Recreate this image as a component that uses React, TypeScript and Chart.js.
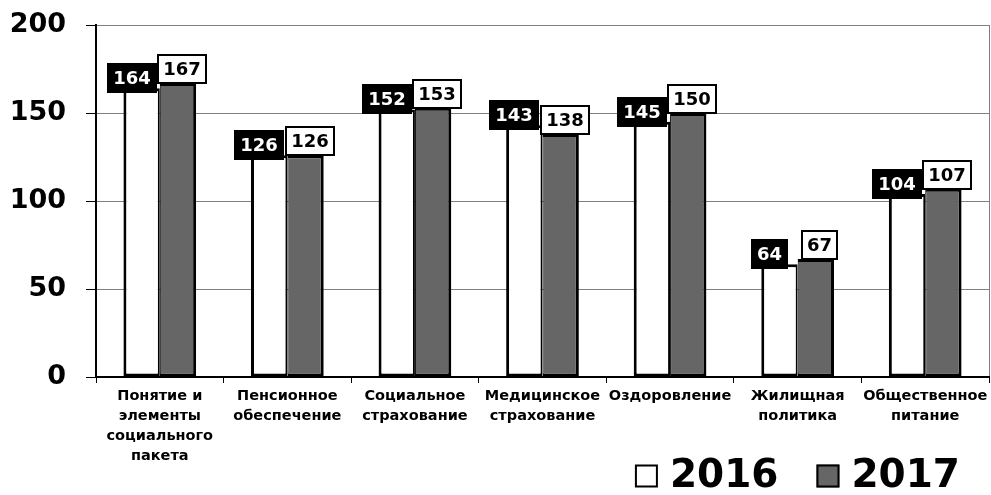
import { useEffect, useRef } from 'react';
import { Chart, registerables } from 'chart.js';

Chart.register(...registerables);

const categories: string[][] = [
  ['Понятие и', 'элементы', 'социального', 'пакета'],
  ['Пенсионное', 'обеспечение'],
  ['Социальное', 'страхование'],
  ['Медицинское', 'страхование'],
  ['Оздоровление'],
  ['Жилищная', 'политика'],
  ['Общественное', 'питание'],
];
const values2016 = [164, 126, 152, 143, 145, 64, 104];
const values2017 = [167, 126, 153, 138, 150, 67, 107];
const seriesNames = ['2016', '2017'];
const yMin = 0;
const yMax = 200;
const yStep = 50;

const FONT = '"DejaVu Sans", Verdana, sans-serif';

const labelPlugin = {
  id: 'boxLabels',
  afterDatasetsDraw(chart: any) {
    const ctx = chart.ctx;
    ctx.save();
    ctx.font = `bold 18px ${FONT}`;
    ctx.textAlign = 'center';
    ctx.textBaseline = 'middle';
    chart.data.datasets.forEach((ds: any, di: number) => {
      const meta = chart.getDatasetMeta(di);
      const dark = di === 0;
      meta.data.forEach((el: any, i: number) => {
        const text = String(ds.data[i]);
        const w = Math.round(ctx.measureText(text).width + 12);
        const h = 30;
        const cx = el.x + (dark ? -10 : 4);
        const cy = el.y + (dark ? -10 : -14);
        const x0 = Math.round(cx - w / 2);
        const y0 = Math.round(cy - h / 2);
        if (dark) {
          ctx.fillStyle = '#000';
          ctx.fillRect(x0, y0, w, h);
          ctx.fillStyle = '#fff';
        } else {
          ctx.fillStyle = '#fff';
          ctx.fillRect(x0, y0, w, h);
          ctx.lineWidth = 2;
          ctx.strokeStyle = '#000';
          ctx.strokeRect(x0 + 1, y0 + 1, w - 2, h - 2);
          ctx.fillStyle = '#000';
        }
        ctx.fillText(text, x0 + w / 2, y0 + h / 2 + 1);
      });
    });
    ctx.restore();
  },
};

// Legend drawn from the datasets (so it can share space with the x labels)
const legendPlugin = {
  id: 'bottomLegend',
  afterDraw(chart: any) {
    const ctx = chart.ctx;
    ctx.save();
    ctx.font = `bold 39px ${FONT}`;
    ctx.textBaseline = 'middle';
    ctx.textAlign = 'left';
    const box = 23;
    const gapText = 12;
    const gapItem = 38;
    const cy = 476;
    const items = chart.data.datasets.map((ds: any) => ({
      text: ds.label,
      fill: ds.backgroundColor,
      w: ctx.measureText(ds.label).width,
    }));
    const total = items.reduce((s: number, it: any) => s + box + gapText + it.w, 0) + gapItem * (items.length - 1);
    let x = chart.width - 31 - total;
    items.forEach((it: any) => {
      ctx.fillStyle = it.fill;
      ctx.fillRect(x, cy - box / 2, box, box);
      ctx.lineWidth = 2;
      ctx.strokeStyle = '#000';
      ctx.strokeRect(x + 1, cy - box / 2 + 1, box - 2, box - 2);
      x += box + gapText;
      ctx.fillStyle = '#000';
      ctx.fillText(it.text, x, cy + 1);
      x += it.w + gapItem;
    });
    ctx.restore();
  },
};

export default function App() {
  const ref = useRef<HTMLCanvasElement | null>(null);

  useEffect(() => {
    if (!ref.current) return;
    Chart.defaults.color = '#000';
    const chart = new Chart(ref.current, {
      type: 'bar',
      data: {
        labels: categories,
        datasets: [
          {
            label: seriesNames[0],
            data: values2016,
            backgroundColor: '#ffffff',
            borderColor: '#000000',
            borderWidth: { top: 3, left: 3, bottom: 3, right: 2 },
            borderSkipped: false,
            barPercentage: 1,
            categoryPercentage: 0.57,
          },
          {
            label: seriesNames[1],
            data: values2017,
            backgroundColor: '#666666',
            borderColor: '#000000',
            borderWidth: { top: 3, left: 1, bottom: 3, right: 3 },
            borderSkipped: false,
            barPercentage: 1,
            categoryPercentage: 0.57,
          },
        ],
      },
      options: {
        animation: false,
        responsive: true,
        maintainAspectRatio: false,
        layout: { padding: { top: 25, right: 2, left: 0, bottom: 0 } },
        plugins: {
          tooltip: { enabled: false },
          legend: { display: false },
        },
        scales: {
          x: {
            grid: {
              offset: true,
              drawOnChartArea: true,
              color: (c: any) => (c.tick ? 'rgba(0,0,0,0)' : '#808080'),
              tickColor: '#000',
              tickLength: 6,
              lineWidth: 1,
            },
            border: { display: true, color: '#000', width: 2 },
            ticks: {
              autoSkip: false,
              maxRotation: 0,
              minRotation: 0,
              padding: 3,
              color: '#000',
              font: { family: FONT, size: 14.5, weight: 'bold', lineHeight: 1.38 },
            },
            afterFit: (s: any) => {
              s.height = 118;
              s.paddingLeft = 0;
              s.paddingRight = 0;
            },
          },
          y: {
            min: yMin,
            max: yMax,
            ticks: {
              stepSize: yStep,
              padding: 20,
              color: '#000',
              font: { family: FONT, size: 27, weight: 'bold' },
            },
            grid: {
              color: '#808080',
              tickColor: '#000',
              tickLength: 10,
              lineWidth: 1,
            },
            border: { display: true, color: '#000', width: 2 },
            afterFit: (s: any) => {
              s.width = 96;
              s.paddingTop = 0;
              s.paddingBottom = 0;
            },
          },
        },
      },
      plugins: [labelPlugin, legendPlugin],
    } as any);
    return () => chart.destroy();
  }, []);

  return (
    <div style={{ position: 'fixed', left: 0, top: 0, width: 991, height: 495, background: '#fff' }}>
      <canvas ref={ref} />
    </div>
  );
}
